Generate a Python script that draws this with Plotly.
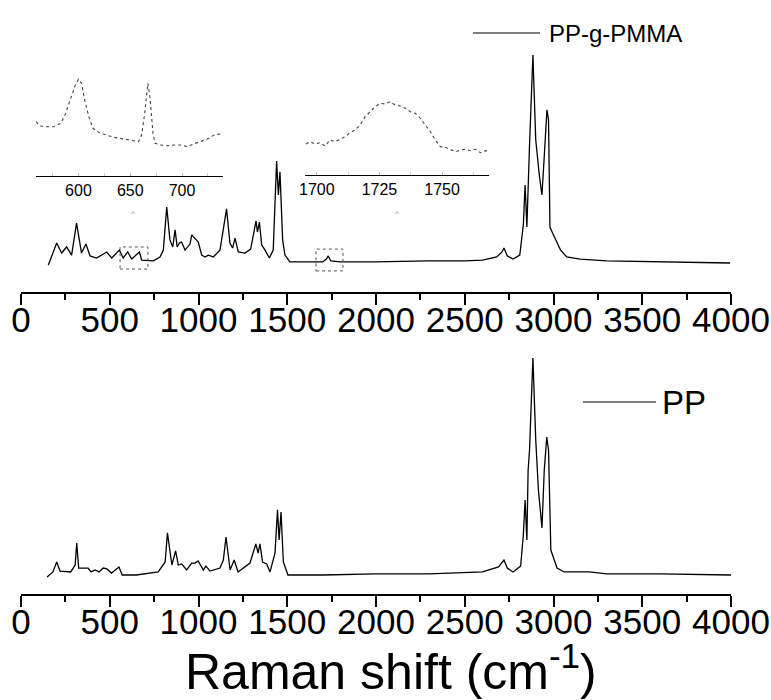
import plotly.graph_objects as go

# ---------------- data (arbitrary intensity units) -------------
# PP-g-PMMA full spectrum
pmma_shift = [154, 201, 229, 257, 285, 313, 341, 366, 389, 426, 483, 511, 554, 576, 601, 624,
              667, 680, 746, 783, 802, 821, 839, 855, 868, 880, 892, 905, 924, 952, 962, 980,
              999, 1018, 1037, 1055, 1083, 1121, 1158, 1177, 1192, 1206, 1224, 1262, 1294, 1324,
              1332, 1343, 1356, 1375, 1399, 1421, 1440, 1450, 1459, 1474, 1487, 1515, 1600, 1700,
              1720, 1731, 1745, 1800, 2000, 2290, 2500, 2600, 2680, 2710, 2721, 2740, 2772, 2810,
              2830, 2840, 2850, 2857, 2865, 2884, 2900, 2920, 2935, 2950, 2963, 2972, 2980, 3000,
              3040, 3075, 3150, 3300, 3600, 3995]
pmma_int = [-0.01, 0.096, 0.048, 0.077, 0.038, 0.192, 0.048, 0.091, 0.034, 0.024, 0.053, 0.024,
            0.062, 0.024, 0.053, 0.019, 0.053, 0.014, 0.010, 0.029, 0.062, 0.269, 0.111, 0.077,
            0.159, 0.077, 0.096, 0.101, 0.062, 0.091, 0.135, 0.120, 0.101, 0.038, 0.029, 0.038,
            0.029, 0.062, 0.260, 0.096, 0.072, 0.120, 0.053, 0.048, 0.067, 0.202, 0.149, 0.197,
            0.087, 0.062, 0.024, 0.062, 0.490, 0.327, 0.438, 0.111, 0.038, 0.005, 0.005, 0.005,
            0.019, 0.034, 0.010, 0.005, 0.005, 0.010, 0.010, 0.014, 0.029, 0.053, 0.072, 0.034,
            0.019, 0.038, 0.183, 0.375, 0.173, 0.399, 0.567, 1.000, 0.591, 0.423, 0.327, 0.543,
            0.736, 0.688, 0.173, 0.135, 0.062, 0.029, 0.019, 0.010, 0.005, 0.000]

# PP full spectrum
pp_shift = [147, 180, 201, 220, 280, 305, 314, 325, 378, 395, 417, 440, 463, 484, 510, 552, 570,
            650, 773, 812, 825, 850, 871, 886, 905, 933, 962, 980, 998, 1027, 1042, 1065, 1121,
            1140, 1155, 1178, 1201, 1223, 1290, 1323, 1336, 1346, 1361, 1384, 1403, 1431, 1445,
            1454, 1465, 1478, 1504, 1700, 2000, 2300, 2600, 2690, 2721, 2740, 2772, 2815, 2830,
            2840, 2850, 2857, 2865, 2884, 2900, 2915, 2935, 2948, 2962, 2972, 2985, 3020, 3060,
            3200, 3300, 3600, 4000]
pp_int = [-0.009, 0.014, 0.060, 0.018, 0.014, 0.046, 0.147, 0.032, 0.032, 0.014, 0.023, 0.014,
          0.032, 0.028, 0.009, 0.037, 0.0, 0.0, 0.014, 0.060, 0.194, 0.046, 0.111, 0.046, 0.051,
          0.023, 0.055, 0.055, 0.065, 0.023, 0.041, 0.018, 0.032, 0.069, 0.175, 0.023, 0.069,
          0.014, 0.055, 0.143, 0.101, 0.143, 0.060, 0.051, 0.014, 0.101, 0.300, 0.161, 0.290,
          0.060, 0.0, 0.0, 0.005, 0.005, 0.014, 0.037, 0.069, 0.032, 0.014, 0.041, 0.184, 0.346,
          0.161, 0.484, 0.576, 1.0, 0.622, 0.392, 0.217, 0.484, 0.636, 0.576, 0.115, 0.032,
          0.014, 0.014, 0.005, 0.005, 0.0]

# inset 1: 560-740 cm-1 region of PP-g-PMMA
ins1_shift = [559, 563, 570, 576, 583, 587, 592, 597, 600, 603, 606, 610, 614, 621, 627, 634,
              640, 647, 653, 658, 661, 664, 666, 667, 669, 670, 672, 674, 679, 686, 692, 699,
              705, 711, 718, 724, 731, 736, 740]
ins1_int = [543, 500, 493, 493, 527, 610, 760, 910, 967, 927, 760, 593, 477, 427, 410, 387,
            377, 367, 353, 343, 410, 627, 877, 927, 793, 660, 427, 327, 310, 303, 310, 310,
            293, 320, 343, 367, 410, 420, 410]

# inset 2: 1695-1770 cm-1 (C=O) region of PP-g-PMMA
ins2_shift = [1695.7, 1697.3, 1699.3, 1701.3, 1703.3, 1705.3, 1707.3, 1709.3, 1711.3, 1713.3,
              1715.3, 1717.3, 1719.3, 1721.3, 1723.3, 1725.3, 1727.3, 1729.3, 1731.3, 1733.3,
              1735.3, 1737.3, 1739.3, 1741.3, 1743.3, 1745.3, 1747.3, 1749.3, 1751.3, 1753.3,
              1755.3, 1757.3, 1759.3, 1761.3, 1763.3, 1765.3, 1767.3, 1768.7]
ins2_int = [310, 333, 310, 323, 290, 350, 333, 357, 383, 423, 450, 500, 583, 633, 683, 717, 710,
            733, 700, 690, 667, 633, 617, 567, 500, 433, 350, 283, 277, 257, 233, 250, 257, 243,
            257, 223, 243, 233]

main_ticks = [0, 500, 1000, 1500, 2000, 2500, 3000, 3500, 4000]
ins1_ticks = [600, 650, 700]
ins2_ticks = [1700, 1725, 1750]
labels = ["PP-g-PMMA", "PP"]

# ---------------- figure ----------------
W, H = 771, 700
FONT = "Arial, Liberation Sans, sans-serif"

def py(pix):
    return 1 - pix / H

def px(pix):
    return pix / W

fig = go.Figure()
line_main = dict(color="black", width=1.3)
fig.add_trace(go.Scatter(x=pmma_shift, y=pmma_int, mode="lines", line=line_main,
                         xaxis="x", yaxis="y", showlegend=False))
fig.add_trace(go.Scatter(x=pp_shift, y=pp_int, mode="lines", line=line_main,
                         xaxis="x2", yaxis="y2", showlegend=False))
ins_line = dict(color="#444444", width=1.1, dash="dot")
fig.add_trace(go.Scatter(x=ins1_shift, y=ins1_int, mode="lines", line=ins_line,
                         xaxis="x3", yaxis="y3", showlegend=False))
fig.add_trace(go.Scatter(x=ins2_shift, y=ins2_int, mode="lines", line=ins_line,
                         xaxis="x4", yaxis="y4", showlegend=False))

# axes carrying the line and tick marks
main_x = dict(range=[0, 4000], domain=[px(21), px(731)], showline=True, linecolor="black",
              linewidth=2, ticks="outside", ticklen=11, tickwidth=2, tickcolor="black",
              tickvals=main_ticks, showticklabels=False, showgrid=False, zeroline=False,
              automargin=False,
              minor=dict(dtick=250, ticks="outside", ticklen=6, tickwidth=2, tickcolor="black",
                         tick0=0, showgrid=False))
# overlaid axes carrying only the (large) tick labels, set close to the line
label_x = dict(range=[0, 4000], showline=False, ticks="", tickvals=main_ticks,
               showticklabels=True, showgrid=False, zeroline=False, automargin=False,
               ticklabelstandoff=4,
               tickfont=dict(family=FONT, size=35, color="black"))
ins_x = dict(showline=True, linecolor="black", linewidth=1.3, ticks="inside", ticklen=3,
             tickwidth=1, tickcolor="#bbbbbb", showgrid=False, zeroline=False, automargin=False,
             tickfont=dict(family=FONT, size=16, color="black"))
hidden_y = dict(visible=False, automargin=False, showgrid=False, zeroline=False)

fig.update_layout(
    template="none",
    width=W, height=H, margin=dict(l=0, r=0, t=0, b=0, autoexpand=False),
    paper_bgcolor="white", plot_bgcolor="rgba(0,0,0,0)",
    xaxis=dict(main_x, anchor="y"),
    yaxis=dict(hidden_y, domain=[py(292), 1.0], range=[-0.1394, 1.2644], anchor="x"),
    xaxis2=dict(main_x, anchor="y2"),
    yaxis2=dict(hidden_y, domain=[py(594), py(340)], range=[-0.0876, 1.083], anchor="x2"),
    xaxis5=dict(label_x, overlaying="x", anchor="y"),
    xaxis6=dict(label_x, overlaying="x2", anchor="y2"),
    xaxis3=dict(ins_x, domain=[px(36), px(223)], range=[559, 739.6], tickvals=ins1_ticks,
                anchor="y3", minor=dict(dtick=25, tick0=575, ticks="inside", ticklen=3,
                                        tickcolor="#cccccc")),
    yaxis3=dict(hidden_y, domain=[py(176), py(60)], range=[0, 1160], anchor="x3"),
    xaxis4=dict(ins_x, domain=[px(305), px(489)], range=[1695.3, 1768.7], tickvals=ins2_ticks,
                anchor="y4", minor=dict(dtick=12.5, tick0=1700, ticks="inside", ticklen=3,
                                        tickcolor="#cccccc")),
    yaxis4=dict(hidden_y, domain=[py(175), py(60)], range=[0, 1150], anchor="x4"),
)
# invisible traces so the label axes are drawn
fig.add_trace(go.Scatter(x=main_ticks, y=[None] * len(main_ticks), mode="lines",
                         xaxis="x5", yaxis="y", showlegend=False, hoverinfo="skip"))
fig.add_trace(go.Scatter(x=main_ticks, y=[None] * len(main_ticks), mode="lines",
                         xaxis="x6", yaxis="y2", showlegend=False, hoverinfo="skip"))

# dotted boxes marking the zoomed regions
box = dict(type="rect", xref="x", yref="y", line=dict(color="#555555", width=1, dash="dot"))
fig.add_shape(box, x0=558, x1=715, y0=-0.029, y1=0.077)
fig.add_shape(box, x0=1662, x1=1814, y0=-0.038, y1=0.067)

# legend-like labels
fig.add_shape(type="line", xref="paper", yref="paper", x0=px(473), x1=px(540), y0=py(33),
              y1=py(33), line=dict(color="black", width=1))
fig.add_annotation(xref="paper", yref="paper", x=px(547), y=py(33), text=labels[0],
                   showarrow=False, xanchor="left", yanchor="middle",
                   font=dict(family=FONT, size=24, color="black"))
fig.add_shape(type="line", xref="paper", yref="paper", x0=px(583), x1=px(656), y0=py(402),
              y1=py(402), line=dict(color="black", width=1))
fig.add_annotation(xref="paper", yref="paper", x=px(660), y=py(402), text=labels[1],
                   showarrow=False, xanchor="left", yanchor="middle",
                   font=dict(family=FONT, size=33, color="black"))

# tiny caret marks under the insets
for xx in (129, 397):
    fig.add_annotation(xref="paper", yref="paper", x=px(xx), y=py(207), text="^",
                       showarrow=False, font=dict(family=FONT, size=8, color="#888888"))

# axis title
fig.add_annotation(xref="paper", yref="paper", x=px(391), y=py(668),
                   text="Raman shift (cm<sup>-1</sup>)", showarrow=False,
                   xanchor="center", yanchor="middle",
                   font=dict(family=FONT, size=50, color="black"))

fig.write_html("out.html")
